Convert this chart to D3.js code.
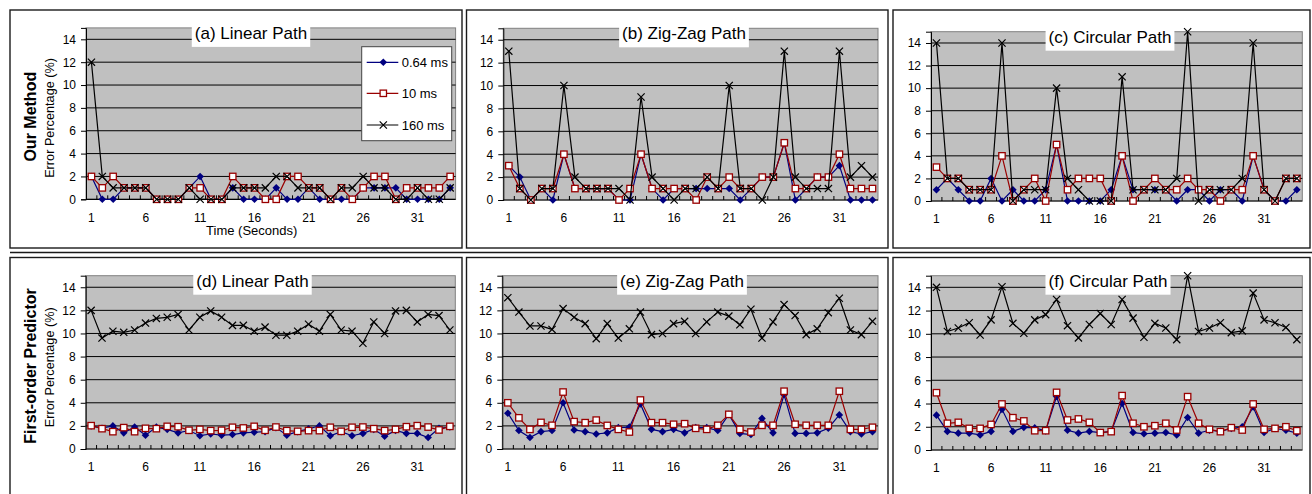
<!DOCTYPE html>
<html lang="en">
<head>
<meta charset="UTF-8">
<title>Error Percentage</title>
<script src="https://d3js.org/d3.v7.min.js"></script>
<style>
  body { margin: 0; background: #fff; }
  text { font-family: Arial, "Liberation Sans", sans-serif; fill: #000; }
</style>
</head>
<body>
<div id="chart"></div>
<script>
// categories / labels
var categories = [1,2,3,4,5,6,7,8,9,10,11,12,13,14,15,16,17,18,19,20,21,22,23,24,25,26,27,28,29,30,31,32,33,34];
var xTickLabels = [1,6,11,16,21,26,31];
var yTicks = [0,2,4,6,8,10,12,14];
var seriesNames = ["0.64 ms","10 ms","160 ms"];
var panelTitles = ["(a) Linear Path","(b) Zig-Zag Path","(c) Circular Path",
                   "(d) Linear Path","(e) Zig-Zag Path","(f) Circular Path"];
var rowLabels = ["Our Method","First-order Predictor"];
var yLabel = "Error Percentage (%)";
var xLabel = "Time (Seconds)";

// Our Method - linear
var a064 = [2,0,0,1,1,1,0,0,0,1,2,0,0,1,0,0,0,1,0,0,1,0,0,0,0,1,1,1,1,0,0,0,0,1];
var a10  = [2,1,2,1,1,1,0,0,0,1,1,0,0,2,1,1,0,0,2,2,1,1,0,1,0,1,2,2,0,1,1,1,1,2];
var a160 = [12,2,1,1,1,1,0,0,0,1,0,0,0,1,1,1,1,2,2,1,1,1,0,1,1,2,1,1,0,0,1,0,0,1];
// Our Method - zig-zag
var b064 = [3,2,0,1,0,4,1,1,1,1,0,0,4,1,0,1,1,1,1,1,1,0,1,2,2,5,0,1,2,2,3,0,0,0];
var b10  = [3,1,0,1,1,4,1,1,1,1,0,1,4,1,1,1,1,0,2,1,2,1,1,2,2,5,1,1,2,2,4,1,1,1];
var b160 = [13,1,0,1,1,10,2,1,1,1,1,0,9,2,1,0,1,1,2,1,10,1,1,0,2,13,2,1,1,1,13,2,3,2];
// Our Method - circular
var c064 = [1,2,1,0,0,2,0,1,0,0,1,5,0,0,0,0,1,4,1,1,1,1,0,1,1,0,1,1,0,4,1,0,0,1];
var c10  = [3,2,2,1,1,1,4,0,1,2,0,5,1,2,2,2,0,4,0,1,2,1,1,2,1,1,0,1,1,4,1,0,2,2];
var c160 = [14,2,2,1,1,1,14,0,1,1,1,10,2,1,0,0,0,11,1,1,1,1,2,15,0,1,1,1,2,14,1,0,2,2];
// First-order Predictor - linear
var d064 = [2.0,1.8,2.0,1.4,1.9,1.2,1.9,1.7,1.4,1.6,1.15,1.3,1.2,1.25,1.4,1.45,1.5,1.85,1.2,1.5,1.75,2.0,1.15,1.5,1.15,1.35,1.7,1.1,1.6,1.35,1.35,1.0,1.8,1.9];
var d10  = [2.02,1.76,1.5,1.85,1.5,1.79,1.76,1.96,1.93,1.62,1.7,1.59,1.62,1.88,1.82,1.96,1.62,1.9,1.59,1.53,1.59,1.59,1.88,1.53,1.88,1.9,1.76,1.59,1.7,1.93,2.02,1.9,1.65,1.96];
var d160 = [12.0,9.6,10.2,10.1,10.3,10.9,11.3,11.4,11.65,10.3,11.4,11.95,11.4,10.7,10.7,10.2,10.55,9.85,9.85,10.2,10.8,10.2,11.65,10.3,10.2,9.15,11.0,10.0,11.95,12.0,11.0,11.65,11.55,10.3];
// First-order Predictor - zig-zag
var e064 = [3.1,1.6,1.0,1.5,1.6,4.0,1.65,1.5,1.3,1.4,1.85,1.9,3.9,1.7,1.5,1.7,1.4,1.85,1.85,1.6,3.0,1.35,1.25,2.65,1.4,4.7,1.35,1.35,1.4,1.8,2.95,1.5,1.3,1.5];
var e10  = [4.0,2.7,1.7,2.3,2.05,4.93,2.37,2.28,2.5,2.04,1.7,1.47,4.24,2.28,2.28,2.14,2.19,1.79,1.7,2.05,3.0,1.7,1.47,2.05,2.05,5.0,2.14,2.05,2.05,2.05,5.0,1.7,1.7,1.88];
var e160 = [13.1,11.85,10.65,10.65,10.35,12.15,11.4,10.85,9.55,10.85,9.6,10.4,11.85,9.9,10.0,10.85,11.05,10.0,11.0,11.85,11.5,10.75,12.1,9.6,11.0,12.5,11.55,9.9,10.4,11.8,13.05,10.3,9.9,11.05];
// First-order Predictor - circular
var f064 = [3.0,1.6,1.45,1.45,1.3,1.6,3.5,1.6,1.95,1.9,1.65,4.6,1.7,1.45,1.6,1.5,1.6,4.0,1.5,1.4,1.45,1.5,1.3,2.8,1.45,1.7,1.6,1.85,2.0,3.7,1.5,1.85,1.7,1.45];
var f10  = [4.93,2.3,2.38,1.86,1.86,2.2,3.96,2.78,2.5,1.66,1.66,4.96,2.58,2.67,2.38,1.5,1.58,4.68,2.3,2.0,2.09,2.3,1.72,4.59,2.3,1.78,1.58,1.92,1.72,3.96,1.78,1.86,2.0,1.66];
var f160 = [14.0,10.2,10.5,10.95,9.9,11.2,14.05,10.9,10.05,11.2,11.65,12.95,10.7,9.65,10.8,11.75,10.8,12.95,11.35,9.7,10.9,10.5,9.5,15.0,10.2,10.5,10.95,10.1,10.25,13.5,11.2,10.95,10.55,9.5];

var panelSeries = [[a064,a10,a160],[b064,b10,b160],[c064,c10,c160],
                   [d064,d10,d160],[e064,e10,e160],[f064,f10,f160]];

// layout (pixels)
var width = 1312, height = 494;
var frames = [
    {x:10, y:10, w:452, h:238}, {x:466.5, y:10, w:421.5, h:238}, {x:893, y:10, w:417, h:238},
    {x:10, y:257.5, w:452, h:260}, {x:466.5, y:257.5, w:421.5, h:260}, {x:893, y:257.5, w:417, h:260}
];
var plots = [
    {x0:86, x1:455.6, top:27.9, zero:199.3, titleX:251},
    {x0:503.3, x1:878, top:28.3, zero:200, titleX:684},
    {x0:931, x1:1302.3, top:31.7, zero:201, titleX:1110},
    {x0:85.7, x1:455.3, top:275.7, zero:449, titleX:252.5},
    {x0:502.3, x1:878, top:275.7, zero:449, titleX:682},
    {x0:931, x1:1302.3, top:275.7, zero:450, titleX:1108}
];
var colors = ["#000080","#990000","#000000"];

var svg = d3.select("#chart").append("svg")
    .attr("width", width)
    .attr("height", height);

svg.append("rect").attr("width", width).attr("height", height).attr("fill", "#fff");

// panel frames
svg.selectAll(".frame")
    .data(frames)
    .enter().append("rect")
    .attr("class", "frame")
    .attr("x", function(d){ return d.x; })
    .attr("y", function(d){ return d.y; })
    .attr("width", function(d){ return d.w; })
    .attr("height", function(d){ return d.h; })
    .attr("fill", "none")
    .attr("stroke", "#1a1a1a")
    .attr("stroke-width", 1.4);

svg.append("line")
    .attr("x1", 10).attr("x2", 1312)
    .attr("y1", 252.5).attr("y2", 252.5)
    .attr("stroke", "#1a1a1a").attr("stroke-width", 1.4);

// markers
function drawMarker(g, s, cx, cy) {
    if (s === 0) {
        var r = 3.8;
        g.append("path")
            .attr("d", "M" + cx + "," + (cy - r) + "L" + (cx + r) + "," + cy + "L" + cx + "," + (cy + r) + "L" + (cx - r) + "," + cy + "Z")
            .attr("fill", colors[0]);
    } else if (s === 1) {
        g.append("rect")
            .attr("x", cx - 3.2).attr("y", cy - 3.2)
            .attr("width", 6.4).attr("height", 6.4)
            .attr("fill", "#fff")
            .attr("stroke", colors[1])
            .attr("stroke-width", 1.3);
    } else {
        var k = 3.6;
        g.append("path")
            .attr("d", "M" + (cx - k) + "," + (cy - k) + "L" + (cx + k) + "," + (cy + k) + "M" + (cx - k) + "," + (cy + k) + "L" + (cx + k) + "," + (cy - k))
            .attr("stroke", colors[2])
            .attr("stroke-width", 1.2)
            .attr("fill", "none");
    }
}

plots.forEach(function(p, pi) {
    var g = svg.append("g");
    var x = d3.scaleBand().domain(categories).range([p.x0, p.x1]).padding(0);
    var y = d3.scaleLinear().domain([0, 15]).range([p.zero, p.top]);
    var cx = function(c){ return x(c) + x.bandwidth() / 2; };

    // plot area
    g.append("rect")
        .attr("x", p.x0).attr("y", p.top)
        .attr("width", p.x1 - p.x0).attr("height", p.zero - p.top)
        .attr("fill", "#c0c0c0")
        .attr("stroke", "#808080")
        .attr("stroke-width", 1);

    // grid lines
    g.selectAll(".grid")
        .data(yTicks.slice(1))
        .enter().append("line")
        .attr("x1", p.x0).attr("x2", p.x1)
        .attr("y1", function(d){ return y(d); })
        .attr("y2", function(d){ return y(d); })
        .attr("stroke", "#000").attr("stroke-width", 1);

    // y axis
    var yAxis = d3.axisLeft(y).tickValues(yTicks).tickSize(5).tickPadding(5);
    var ya = g.append("g").attr("transform", "translate(" + p.x0 + ",0)").call(yAxis);
    ya.select(".domain").attr("stroke", "#000");
    ya.selectAll("text").style("font-size", "12px").style("font-family", "Arial, 'Liberation Sans', sans-serif");

    // x axis: ticks at band boundaries, labels every 5th category
    g.append("line")
        .attr("x1", p.x0).attr("x2", p.x1)
        .attr("y1", p.zero).attr("y2", p.zero)
        .attr("stroke", "#000").attr("stroke-width", 1.2);
    g.selectAll(".xtick")
        .data(categories.slice(1))
        .enter().append("line")
        .attr("x1", function(d){ return x(d); })
        .attr("x2", function(d){ return x(d); })
        .attr("y1", p.zero).attr("y2", p.zero - 4)
        .attr("stroke", "#000");
    g.selectAll(".xlab")
        .data(xTickLabels)
        .enter().append("text")
        .attr("x", function(d){ return cx(d); })
        .attr("y", p.zero + 18)
        .attr("dy", "0.35em")
        .attr("text-anchor", "middle")
        .style("font-size", "12px")
        .text(function(d){ return d; });

    // series: blue, red, black
    panelSeries[pi].forEach(function(vals, si) {
        var line = d3.line()
            .x(function(d, i){ return cx(categories[i]); })
            .y(function(d){ return y(d); });
        g.append("path")
            .attr("d", line(vals))
            .attr("fill", "none")
            .attr("stroke", colors[si])
            .attr("stroke-width", 1.2);
        vals.forEach(function(v, i) {
            drawMarker(g, si, cx(categories[i]), y(v));
        });
    });

    // title box
    var t = g.append("text")
        .attr("x", p.titleX)
        .attr("y", p.top + 11)
        .attr("text-anchor", "middle")
        .style("font-size", "17px")
        .text(panelTitles[pi]);
    var bb = t.node().getBBox();
    g.insert("rect", function(){ return t.node(); })
        .attr("x", bb.x - 3).attr("y", p.top - 2)
        .attr("width", bb.width + 6).attr("height", 21)
        .attr("fill", "#fff");
});

// row labels
[116.7, 366].forEach(function(cy, ri) {
    svg.append("text")
        .attr("transform", "translate(30.5," + cy + ") rotate(-90)")
        .attr("dy", "0.35em")
        .attr("text-anchor", "middle")
        .style("font-size", "16px")
        .style("font-weight", "bold")
        .text(rowLabels[ri]);
    svg.append("text")
        .attr("transform", "translate(50," + (cy + 1.2) + ") rotate(-90)")
        .attr("dy", "0.35em")
        .attr("text-anchor", "middle")
        .style("font-size", "12.7px")
        .text(yLabel);
});

svg.append("text")
    .attr("x", 251.7).attr("y", 235)
    .attr("text-anchor", "middle")
    .style("font-size", "13px")
    .text(xLabel);

// legend in panel (a)
var lg = svg.append("g");
lg.append("rect")
    .attr("x", 361.7).attr("y", 46.7)
    .attr("width", 90).attr("height", 94)
    .attr("fill", "#fff")
    .attr("stroke", "#444").attr("stroke-width", 1);
[62.3, 93.3, 125].forEach(function(ly, si) {
    lg.append("line")
        .attr("x1", 366.7).attr("x2", 398.3)
        .attr("y1", ly).attr("y2", ly)
        .attr("stroke", colors[si]).attr("stroke-width", 1.2);
    drawMarker(lg, si, 383.3, ly);
    lg.append("text")
        .attr("x", 401.7).attr("y", ly)
        .attr("dy", "0.35em")
        .style("font-size", "13px")
        .text(seriesNames[si]);
});
</script>
</body>
</html>
